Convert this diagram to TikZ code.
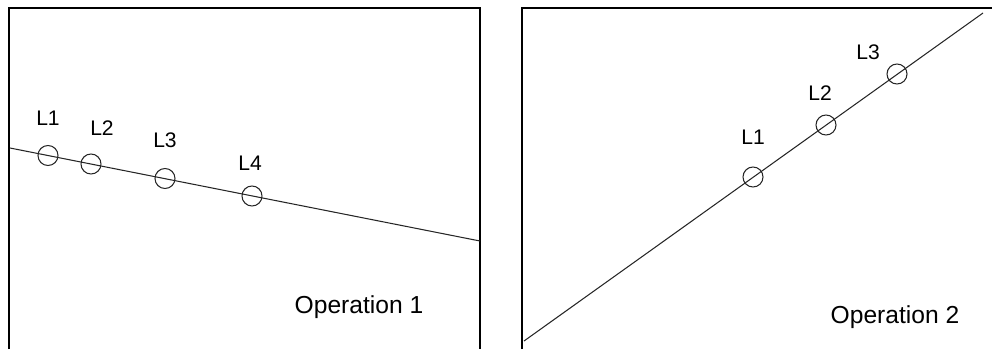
\documentclass[tikz,border=0pt]{standalone}
\usepackage{fontspec}
\setmainfont{Liberation Sans}
\usetikzlibrary{positioning}
\tikzset{
  frame/.style={draw=black,line width=0.9pt},
  track/.style={draw=black!85,line width=0.75pt},
  loc/.style={circle,draw=black!85,line width=0.75pt,minimum size=0.5cm,inner sep=0pt},
  loclabel/.style={inner sep=0pt,font=\fontsize{15}{17}\selectfont},
  optitle/.style={inner sep=0pt,font=\fontsize{17.5}{20}\selectfont},
}

\begin{document}
\begin{tikzpicture}[x=0.025cm,y=-0.025cm]
\useasboundingbox (0,0) rectangle (992,349);

% Operation 1
\draw[frame] (9,349) -- (9,8) -- (480,8) -- (480,349);
\coordinate (a0) at (10,148);
\coordinate (a5) at (480,241);
\draw[track] (a0) -- (a5);

\node[loc] (a1) at (48,155.5) {};
\node[loc] (a2) at (91,164) {};
\node[loc] (a3) at (165,178.5) {};
\node[loc] (a4) at (252,196) {};

\node[loclabel] (la1) at (48,118) {L1};
\node[loclabel] (la2) at (102,128) {L2};
\node[loclabel] (la3) at (165,140) {L3};
\node[loclabel] (la4) at (250,163) {L4};

\node[optitle] (op1) at (359,307) {Operation 1};

% Operation 2
\draw[frame] (522,349) -- (522,8) -- (992,8);
\coordinate (b0) at (524,341);
\coordinate (b4) at (983,13);
\draw[track] (b0) -- (b4);

\node[loc] (b1) at (753,177) {};
\node[loc] (b2) at (826,125) {};
\node[loc] (b3) at (897,74) {};

\node[loclabel] (lb1) at (753,137) {L1};
\node[loclabel] (lb2) at (820,93) {L2};
\node[loclabel] (lb3) at (868,52) {L3};

\node[optitle] (op2) at (895,317) {Operation 2};

\end{tikzpicture}
\end{document}
